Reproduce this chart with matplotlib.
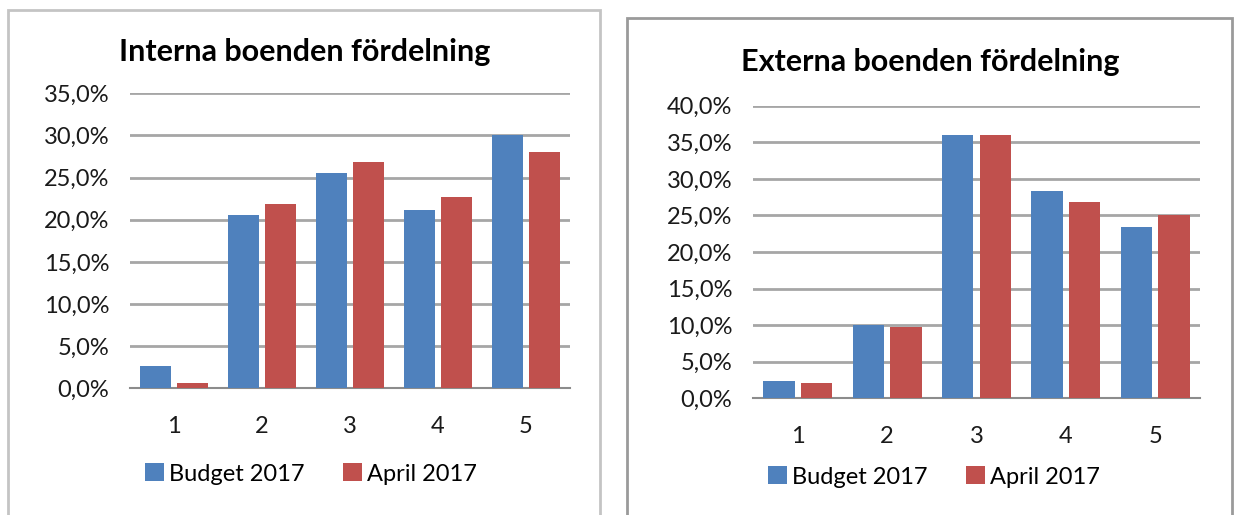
import matplotlib.pyplot as plt
from matplotlib.patches import Rectangle
from matplotlib.ticker import FuncFormatter
import numpy as np

plt.rcParams['font.family'] = ['Lato', 'DejaVu Sans']

categories = ['1', '2', '3', '4', '5']
series_names = ['Budget 2017', 'April 2017']

intern_budget = [2.7, 20.6, 25.5, 21.1, 30.0]
intern_april = [0.6, 21.9, 26.8, 22.7, 28.0]

extern_budget = [2.4, 10.0, 36.0, 28.4, 23.4]
extern_april = [2.1, 9.8, 36.0, 26.9, 25.0]

blue = '#4F81BD'
red = '#C0504D'
grid_col = '#a6a6a6'

W, H = 1235, 515
fig = plt.figure(figsize=(W / 100, H / 100), dpi=100)


def px_box(x0, y_top, x1, y_bot):
    # pixel box (top-left origin) -> figure fraction
    return [x0 / W, 1 - y_bot / H, (x1 - x0) / W, (y_bot - y_top) / H]


def pct(v, pos):
    return f'{v:.1f}'.replace('.', ',') + '%'


def draw_panel(rect, title, title_xy, budget, april, ymax, legend_xy):
    ax = fig.add_axes(rect)
    x = np.arange(1, len(categories) + 1)
    w = 0.35
    ax.bar(x - 0.21, budget, w, color=blue, label=series_names[0], zorder=3)
    ax.bar(x + 0.21, april, w, color=red, label=series_names[1], zorder=3)
    ax.set_xlim(0.5, len(categories) + 0.5)
    ax.set_ylim(0, ymax)
    ax.set_yticks(np.arange(0, ymax + 0.1, 5))
    ax.yaxis.set_major_formatter(FuncFormatter(pct))
    ax.set_xticks(x)
    ax.set_xticklabels(categories)
    ax.grid(axis='y', color=grid_col, linewidth=2, zorder=0)
    for s in ['top', 'right', 'left']:
        ax.spines[s].set_visible(False)
    ax.spines['bottom'].set_color('#8c8c8c')
    ax.spines['bottom'].set_linewidth(1.5)
    ax.tick_params(axis='both', length=0, labelsize=17, labelcolor='#1a1a1a')
    ax.tick_params(axis='y', pad=15)
    ax.tick_params(axis='x', pad=20)
    fig.text(title_xy[0] / W, 1 - title_xy[1] / H, title, ha='center', va='center',
             fontsize=22, fontweight='bold')
    ax.legend(loc='center', bbox_to_anchor=(legend_xy[0] / W, 1 - legend_xy[1] / H),
              bbox_transform=fig.transFigure, ncol=2, frameon=False, fontsize=17,
              handlelength=0.8, handleheight=0.8, handletextpad=0.25, columnspacing=1.6)
    return ax


# panel frames
fig.add_artist(Rectangle((8 / W, -0.1), (600 - 8) / W, 1.1 - 10 / H, transform=fig.transFigure,
                         fill=False, edgecolor='#c4c4c4', linewidth=2))
fig.add_artist(Rectangle((627 / W, -0.1), (1232 - 627) / W, 1.1 - 18 / H, transform=fig.transFigure,
                         fill=False, edgecolor='#9a9a9a', linewidth=2))

draw_panel(px_box(130, 93.3, 570, 388.3), 'Interna boenden fördelning', (305, 52),
           intern_budget, intern_april, 35, (311, 474))
draw_panel(px_box(753, 105.7, 1200, 398.3), 'Externa boenden fördelning', (930, 62),
           extern_budget, extern_april, 40, (934, 477))

plt.savefig('out.png', dpi=100)
